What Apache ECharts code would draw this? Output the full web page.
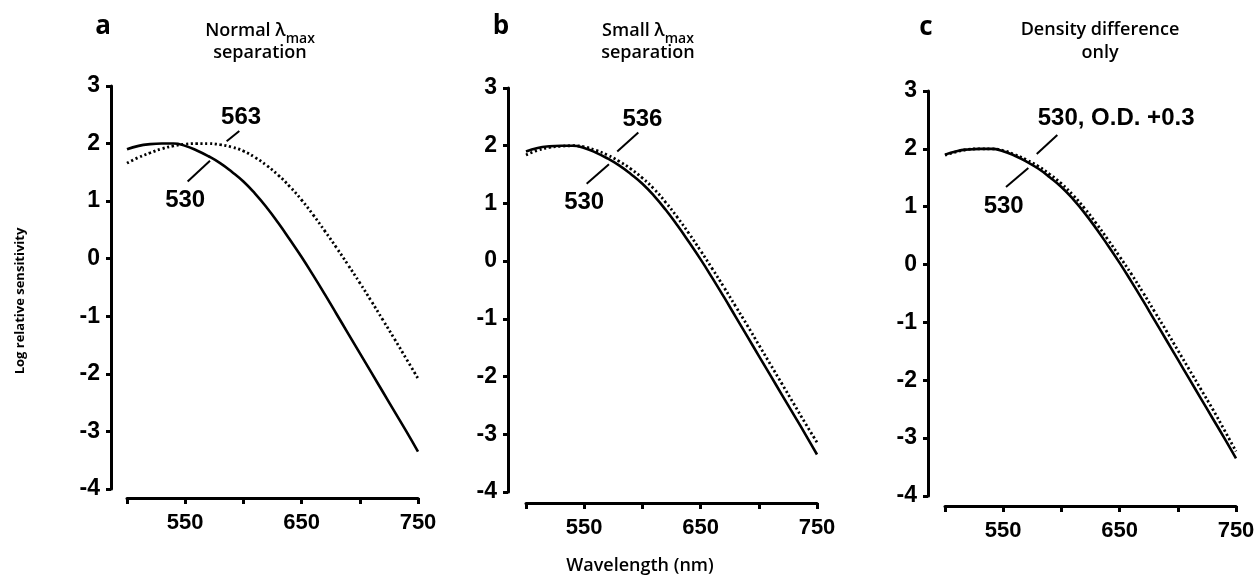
<!DOCTYPE html>
<html>
<head>
<meta charset="utf-8">
<script src="https://cdn.jsdelivr.net/npm/echarts@6/dist/echarts.min.js"></script>
<style>
html, body { margin: 0; padding: 0; background: #ffffff; }
#main { width: 1258px; height: 577px; }
</style>
</head>
<body>
<div id="main"></div>
<script>
// wavelengths (nm) the curves are read at
var wavelength = [500, 510, 520, 530, 540, 550, 560, 570, 580, 590, 600, 610, 620,
                  630, 640, 650, 660, 670, 680, 690, 700, 710, 720, 730, 740, 750];
// log relative sensitivity
var pig530 = [1.90, 1.96, 1.99, 2.00, 2.00, 1.96, 1.88, 1.78, 1.66, 1.51, 1.34, 1.13, 0.89,
              0.62, 0.33, 0.03, -0.29, -0.62, -0.96, -1.30, -1.64, -1.98, -2.32, -2.66, -3.00, -3.35];
var pig563 = [1.66, 1.76, 1.84, 1.91, 1.96, 1.99, 2.00, 2.00, 1.98, 1.94, 1.87, 1.76, 1.62,
              1.45, 1.25, 1.02, 0.76, 0.48, 0.19, -0.11, -0.42, -0.74, -1.07, -1.40, -1.74, -2.08];
var pig536 = [1.84, 1.92, 1.97, 1.99, 2.00, 1.98, 1.92, 1.84, 1.73, 1.60, 1.44, 1.25, 1.02,
              0.76, 0.48, 0.18, -0.13, -0.45, -0.78, -1.11, -1.45, -1.79, -2.13, -2.47, -2.81, -3.14];
var pig530od = [1.89, 1.95, 1.99, 2.00, 2.00, 1.97, 1.90, 1.81, 1.70, 1.56, 1.40, 1.20, 0.97,
                0.71, 0.43, 0.14, -0.16, -0.48, -0.81, -1.14, -1.48, -1.82, -2.16, -2.50, -2.86, -3.23];

var xTickLabels = ['550', '650', '750'];
var panelLetters = ['a', 'b', 'c'];
var panelTitles = [['Normal λ', 'max', 'separation'], ['Small λ', 'max', 'separation'],
                   ['Density difference', '', 'only']];
var solidCurves = [pig530, pig530, pig530];
var dottedCurves = [pig563, pig536, pig530od];
var upperNotes = ['563', '536', '530, O.D. +0.3'];
var lowerNotes = ['530', '530', '530'];

// layout
var grids = [
  { left: 127, top: 86, width: 291, height: 403 },
  { left: 526, top: 88, width: 291, height: 404 },
  { left: 945, top: 91, width: 291, height: 405 }
];
var yOffsets = [16, 18, 17];
var xOffsets = [9, 11, 10];
var letterPos = [[103, 27], [501, 27], [926, 28]];
var titlePos = [[260, 31, 53], [648, 31, 53], [1100, 30, 53]];
// annotation positions in data units [wavelength, value]
var upperAt = [[598, 2.46], [600, 2.45], [647, 2.52]];
var upperLead = [[[596.5, 2.22], [585.6, 2.04]], [[596.5, 2.23], [578.4, 1.90]], [[596.5, 2.24], [578.8, 1.91]]];
var lowerAt = [[550, 1.02], [550, 1.02], [550.4, 1.0]];
var lowerLead = [[[552.1, 1.34], [571.3, 1.70]], [[552.1, 1.34], [571.3, 1.68]], [[552.4, 1.34], [571.6, 1.67]]];

var numFont = '"Liberation Sans", Arial, sans-serif';
var textFont = '"Open Sans", "Noto Sans", sans-serif';

function pairs(ys) {
  var out = [];
  for (var i = 0; i < wavelength.length; i++) out.push([wavelength[i], ys[i]]);
  return out;
}

var xAxes = [], yAxes = [], series = [];
for (var i = 0; i < 3; i++) {
  xAxes.push({
    gridIndex: i, type: 'value', min: 500, max: 750, interval: 50, offset: xOffsets[i],
    axisLine: { show: true, onZero: false, lineStyle: { color: '#000', width: 3 } },
    axisTick: { show: true, length: 6, lineStyle: { color: '#000', width: 3 } },
    axisLabel: {
      margin: 14, fontSize: 22, fontWeight: 'bold', color: '#000', fontFamily: numFont,
      formatter: function (v) { return xTickLabels.indexOf(String(v)) >= 0 ? String(v) : ''; }
    },
    splitLine: { show: false }
  });
  yAxes.push({
    gridIndex: i, type: 'value', min: -4, max: 3, interval: 1, offset: yOffsets[i],
    axisLine: { show: true, onZero: false, lineStyle: { color: '#000', width: 3 } },
    axisTick: { show: true, length: 5, lineStyle: { color: '#000', width: 3 } },
    axisLabel: { margin: 11, fontSize: 23, fontWeight: 'bold', color: '#000', fontFamily: numFont },
    splitLine: { show: false }
  });
  series.push({
    type: 'line', xAxisIndex: i, yAxisIndex: i, data: pairs(solidCurves[i]),
    smooth: true, showSymbol: false, silent: true,
    lineStyle: { color: '#000', width: 2.6 }
  });
  series.push({
    type: 'line', xAxisIndex: i, yAxisIndex: i, data: pairs(dottedCurves[i]),
    smooth: true, showSymbol: false, silent: true,
    lineStyle: { color: '#000', width: 2.8, type: [2.2, 2.6], cap: 'butt' }
  });
}

var chart = echarts.init(document.getElementById('main'));
chart.setOption({
  backgroundColor: '#ffffff',
  animation: false,
  grid: grids,
  xAxis: xAxes,
  yAxis: yAxes,
  series: series
});

var graphics = [];
for (var p = 0; p < 3; p++) {
  graphics.push({
    type: 'text', x: letterPos[p][0], y: letterPos[p][1],
    style: { text: panelLetters[p], fontSize: 26, fontWeight: 'bold', fontFamily: textFont,
             fill: '#000', align: 'center', verticalAlign: 'middle' }
  });
  var t = panelTitles[p];
  graphics.push({
    type: 'text', x: titlePos[p][0], y: titlePos[p][1],
    style: {
      text: '{m|' + t[0] + '}' + (t[1] ? '{s|' + t[1] + '}' : ''),
      align: 'center', verticalAlign: 'middle',
      rich: {
        m: { fontSize: 18, fontWeight: 600, fontFamily: textFont, fill: '#000', lineHeight: 22 },
        s: { fontSize: 14, fontWeight: 600, fontFamily: textFont, fill: '#000', lineHeight: 14,
             verticalAlign: 'bottom', padding: [0, 0, -4, 0] }
      }
    }
  });
  graphics.push({
    type: 'text', x: titlePos[p][0], y: titlePos[p][2],
    style: { text: t[2], fontSize: 18, fontWeight: 600, fontFamily: textFont, fill: '#000',
             align: 'center', verticalAlign: 'middle' }
  });

  var up = chart.convertToPixel({ gridIndex: p }, upperAt[p]);
  var lo = chart.convertToPixel({ gridIndex: p }, lowerAt[p]);
  graphics.push({
    type: 'text', x: up[0], y: up[1],
    style: { text: upperNotes[p], fontSize: 24, fontWeight: 'bold', fontFamily: numFont,
             fill: '#000', align: 'center', verticalAlign: 'middle' }
  });
  graphics.push({
    type: 'text', x: lo[0], y: lo[1],
    style: { text: lowerNotes[p], fontSize: 24, fontWeight: 'bold', fontFamily: numFont,
             fill: '#000', align: 'center', verticalAlign: 'middle' }
  });
  [upperLead[p], lowerLead[p]].forEach(function (seg) {
    var a = chart.convertToPixel({ gridIndex: p }, seg[0]);
    var b = chart.convertToPixel({ gridIndex: p }, seg[1]);
    graphics.push({
      type: 'line', shape: { x1: a[0], y1: a[1], x2: b[0], y2: b[1] },
      style: { stroke: '#000', lineWidth: 2 }
    });
  });
}

graphics.push({
  type: 'text', x: 20, y: 301, rotation: Math.PI / 2,
  style: { text: 'Log relative sensitivity', fontSize: 13, fontWeight: 'bold', fontFamily: textFont,
           fill: '#000', align: 'center', verticalAlign: 'middle' }
});
graphics.push({
  type: 'text', x: 640, y: 566,
  style: { text: 'Wavelength (nm)', fontSize: 18, fontWeight: 600, fontFamily: textFont,
           fill: '#000', align: 'center', verticalAlign: 'middle' }
});

chart.setOption({ graphic: graphics });
</script>
</body>
</html>
